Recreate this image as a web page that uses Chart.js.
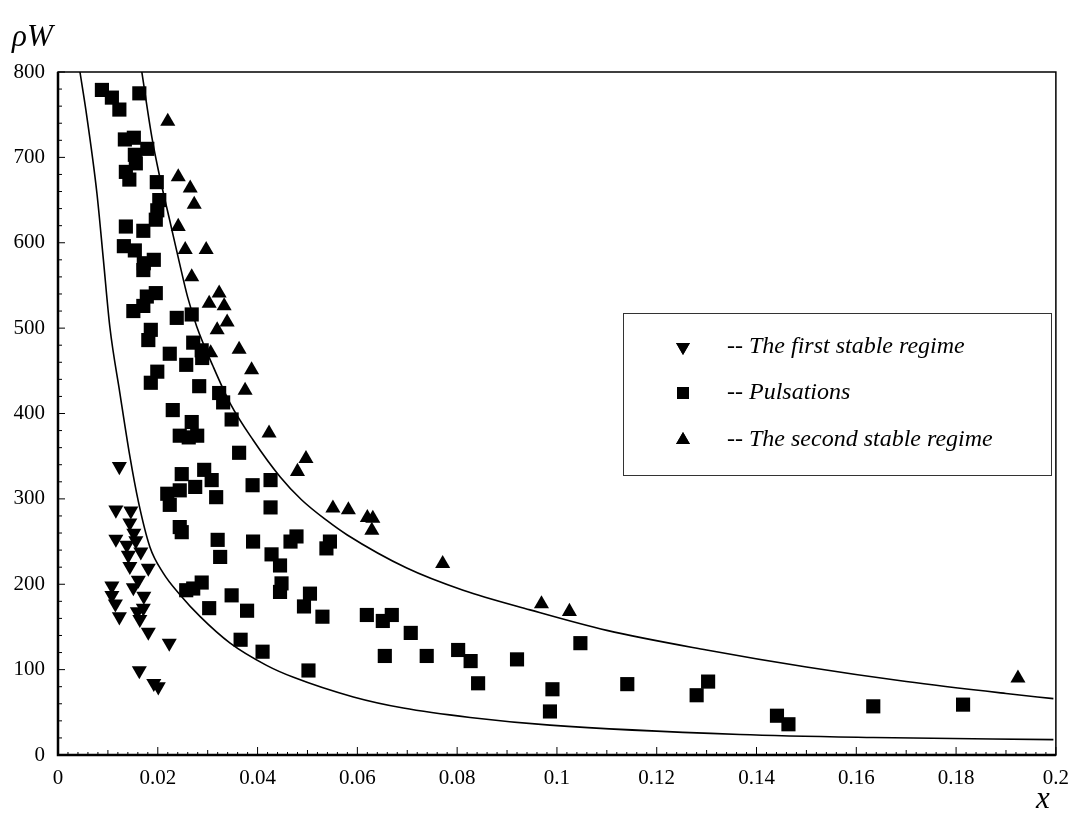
<!DOCTYPE html>
<html>
<head>
<meta charset="utf-8">
<title>rhoW vs x</title>
<script src="https://cdn.jsdelivr.net/npm/chart.js@4.4.0/dist/chart.umd.min.js"></script>
<style>
  html, body { margin: 0; padding: 0; background: #fff; }
  #wrap { width: 1080px; height: 831px; position: relative; }
</style>
</head>
<body>
<div id="wrap"><canvas id="myChart" width="1080" height="831"></canvas></div>
<script>
// tick labels
var xTickLabels = ['0', '0.02', '0.04', '0.06', '0.08', '0.1', '0.12', '0.14', '0.16', '0.18', '0.2'];
var yTickLabels = ['0', '100', '200', '300', '400', '500', '600', '700', '800'];

// legend names
var seriesNames = ['-- The first stable regime', '-- Pulsations', '-- The second stable regime'];

// the first stable regime (down triangles) [x, rhoW]
var firstStable = [
  [0.0123, 338], [0.0116, 287], [0.0146, 286], [0.0144, 272], [0.0152, 260],
  [0.0116, 253], [0.0156, 251], [0.0138, 246], [0.0166, 238], [0.0141, 234],
  [0.0181, 219], [0.0144, 221], [0.0161, 205], [0.0108, 198], [0.0151, 196],
  [0.0108, 187], [0.0172, 186], [0.0115, 177], [0.0171, 172], [0.0159, 168],
  [0.0123, 162], [0.0164, 159], [0.0181, 144], [0.0223, 131], [0.0163, 99],
  [0.0192, 84], [0.0201, 80]
];

// pulsations (squares)
var pulsations = [
  [0.0088, 779], [0.0108, 770], [0.0123, 756], [0.0163, 775], [0.0134, 721],
  [0.0152, 723], [0.0179, 710], [0.0154, 703], [0.0156, 693], [0.0136, 683],
  [0.0143, 674], [0.0198, 671], [0.0203, 650], [0.0199, 638], [0.0196, 627],
  [0.0136, 619], [0.0171, 614], [0.0132, 596], [0.0154, 591], [0.0172, 576],
  [0.0192, 580], [0.0171, 568], [0.0196, 541], [0.0178, 537], [0.0151, 520],
  [0.0171, 526], [0.0238, 512], [0.0268, 516], [0.0186, 498], [0.0181, 486],
  [0.0224, 470], [0.0271, 483], [0.0288, 474], [0.0257, 457], [0.0199, 449],
  [0.0289, 465], [0.0186, 436], [0.0283, 432], [0.0323, 424], [0.0331, 413],
  [0.0230, 404], [0.0348, 393], [0.0268, 390], [0.0244, 374], [0.0262, 372],
  [0.0279, 374], [0.0363, 354], [0.0248, 329], [0.0293, 334], [0.0308, 322],
  [0.0390, 316], [0.0426, 322], [0.0219, 306], [0.0244, 310], [0.0275, 314],
  [0.0317, 302], [0.0224, 293], [0.0426, 290], [0.0244, 267], [0.0248, 261],
  [0.0320, 252], [0.0325, 232], [0.0391, 250], [0.0428, 235], [0.0445, 222],
  [0.0478, 256], [0.0466, 250], [0.0545, 250], [0.0538, 242], [0.0448, 201],
  [0.0445, 191], [0.0288, 202], [0.0257, 193], [0.0271, 195], [0.0348, 187],
  [0.0505, 189], [0.0493, 174], [0.0303, 172], [0.0379, 169], [0.0530, 162],
  [0.0366, 135], [0.0410, 121], [0.0502, 99], [0.0619, 164], [0.0651, 157],
  [0.0669, 164], [0.0707, 143], [0.0655, 116], [0.0739, 116], [0.0802, 123],
  [0.0827, 110], [0.0920, 112], [0.0842, 84], [0.1047, 131], [0.0991, 77],
  [0.0986, 51], [0.1141, 83], [0.1303, 86], [0.1280, 70], [0.1441, 46],
  [0.1464, 36], [0.1634, 57], [0.1814, 59]
];

// the second stable regime (up triangles)
var secondStable = [
  [0.0220, 742], [0.0241, 677], [0.0265, 664], [0.0273, 645], [0.0241, 619],
  [0.0255, 592], [0.0297, 592], [0.0268, 560], [0.0323, 541], [0.0303, 529],
  [0.0333, 526], [0.0339, 507], [0.0319, 498], [0.0306, 471], [0.0363, 475],
  [0.0388, 451], [0.0375, 427], [0.0423, 377], [0.0497, 347], [0.0480, 332],
  [0.0551, 289], [0.0582, 287], [0.0620, 278], [0.0631, 277], [0.0629, 263],
  [0.0771, 224], [0.0969, 177], [0.1025, 168], [0.1924, 90]
];

// boundary curves
var lowerCurve = [
  [0.0044, 800], [0.0056, 755], [0.0078, 658], [0.0091, 580], [0.0104, 501],
  [0.0124, 424], [0.0144, 350], [0.0161, 297], [0.0184, 244], [0.0211, 213],
  [0.0244, 188], [0.0285, 162], [0.0345, 131], [0.0418, 105], [0.0472, 91],
  [0.0592, 68], [0.0692, 55], [0.0826, 44], [0.0986, 35], [0.1367, 24],
  [0.1634, 20.5], [0.1995, 18]
];
var upperCurve = [
  [0.0168, 800], [0.0188, 724], [0.0204, 677], [0.0224, 626], [0.0244, 575],
  [0.0260, 536], [0.0278, 502], [0.0311, 455], [0.0345, 412], [0.0391, 369],
  [0.0445, 326], [0.0488, 299], [0.0538, 275], [0.0579, 258], [0.0699, 219],
  [0.0812, 193], [0.0946, 170], [0.1100, 146], [0.1300, 123], [0.1500, 103],
  [0.1700, 86], [0.1900, 72], [0.1995, 66]
];

function toPts(arr) {
  return arr.map(function (p) { return { x: p[0], y: p[1] }; });
}

var serif = "'Liberation Serif', 'DejaVu Serif', serif";

// frame, inward ticks, axis names and boxed legend
var decorations = {
  id: 'decorations',
  afterDatasetsDraw: function (chart) {
    var ctx = chart.ctx;
    var a = chart.chartArea;
    var xs = chart.scales.x;
    var ys = chart.scales.y;
    ctx.save();
    ctx.strokeStyle = '#000';

    // frame
    ctx.lineWidth = 1.5;
    ctx.strokeRect(a.left, a.top, a.right - a.left, a.bottom - a.top);
    ctx.lineWidth = 2.5;
    ctx.beginPath();
    ctx.moveTo(a.left, a.top);
    ctx.lineTo(a.left, a.bottom);
    ctx.lineTo(a.right, a.bottom);
    ctx.stroke();

    // y ticks every 20
    ctx.lineWidth = 1;
    ctx.beginPath();
    for (var i = 0; i <= 40; i++) {
      var py = ys.getPixelForValue(i * 20);
      var len = (i % 5 === 0) ? 7 : 4;
      ctx.moveTo(a.left, py);
      ctx.lineTo(a.left + len, py);
    }
    // x ticks every 0.002
    for (var j = 0; j <= 100; j++) {
      var px = xs.getPixelForValue(j * 0.002);
      var l = (j % 10 === 0) ? 8 : (j % 5 === 0 ? 5 : 3);
      ctx.moveTo(px, a.bottom);
      ctx.lineTo(px, a.bottom - l);
    }
    ctx.stroke();

    // axis names
    ctx.fillStyle = '#000';
    ctx.font = 'italic 31px ' + serif;
    ctx.textAlign = 'left';
    ctx.textBaseline = 'alphabetic';
    ctx.fillText('\u03C1W', 12, 46);
    ctx.fillText('x', 1036, 808);

    // legend box
    var bx = 623, by = 313, bw = 428, bh = 162;
    ctx.fillStyle = '#fff';
    ctx.fillRect(bx, by, bw, bh);
    ctx.strokeStyle = '#333';
    ctx.lineWidth = 1;
    ctx.strokeRect(bx + 0.5, by + 0.5, bw, bh);

    var rows = [347, 393, 440];
    var styles = ['triangle', 'rect', 'triangle'];
    var rots = [180, 0, 0];
    ctx.fillStyle = '#000';
    for (var k = 0; k < 3; k++) {
      Chart.helpers.drawPoint(ctx, {
        pointStyle: styles[k],
        radius: k === 1 ? 8.5 : 8,
        rotation: rots[k],
        borderWidth: 0
      }, 683, rows[k]);
      ctx.fill();
    }
    ctx.fillStyle = '#000';
    ctx.font = 'italic 24px ' + serif;
    ctx.textBaseline = 'middle';
    for (var m = 0; m < 3; m++) {
      ctx.fillText(seriesNames[m], 727, rows[m]);
    }
    ctx.restore();
  }
};

var ctx = document.getElementById('myChart').getContext('2d');
var myChart = new Chart(ctx, {
  type: 'scatter',
  data: {
    datasets: [
      {
        label: seriesNames[0],
        data: toPts(firstStable),
        pointStyle: 'triangle',
        rotation: 180,
        pointRadius: 8.7,
        backgroundColor: '#000',
        borderColor: '#000',
        borderWidth: 0
      },
      {
        label: seriesNames[1],
        data: toPts(pulsations),
        pointStyle: 'rect',
        pointRadius: 10,
        backgroundColor: '#000',
        borderColor: '#000',
        borderWidth: 0
      },
      {
        label: seriesNames[2],
        data: toPts(secondStable),
        pointStyle: 'triangle',
        pointRadius: 8.7,
        backgroundColor: '#000',
        borderColor: '#000',
        borderWidth: 0
      },
      {
        label: 'lower',
        data: toPts(lowerCurve),
        showLine: true,
        pointRadius: 0,
        borderColor: '#000',
        borderWidth: 1.6,
        cubicInterpolationMode: 'monotone',
        fill: false
      },
      {
        label: 'upper',
        data: toPts(upperCurve),
        showLine: true,
        pointRadius: 0,
        borderColor: '#000',
        borderWidth: 1.6,
        cubicInterpolationMode: 'monotone',
        fill: false
      }
    ]
  },
  options: {
    responsive: false,
    animation: false,
    layout: { padding: { left: 0, right: 24, top: 72, bottom: 0 } },
    plugins: {
      legend: { display: false },
      tooltip: { enabled: false }
    },
    scales: {
      x: {
        type: 'linear',
        min: 0,
        max: 0.2,
        grid: { display: false, drawTicks: false },
        border: { display: false },
        afterFit: function (s) { s.height = 76; },
        afterBuildTicks: function (s) {
          s.ticks = xTickLabels.map(function (t) { return { value: parseFloat(t) }; });
        },
        ticks: {
          padding: 11,
          maxRotation: 0,
          autoSkip: false,
          color: '#000',
          font: { family: serif, size: 21 },
          callback: function (v, i) { return xTickLabels[i]; }
        }
      },
      y: {
        type: 'linear',
        min: 0,
        max: 800,
        grid: { display: false, drawTicks: false },
        border: { display: false },
        afterFit: function (s) { s.width = 58; },
        afterBuildTicks: function (s) {
          s.ticks = yTickLabels.map(function (t) { return { value: parseFloat(t) }; });
        },
        ticks: {
          padding: 13,
          autoSkip: false,
          color: '#000',
          font: { family: serif, size: 21 },
          callback: function (v, i) { return yTickLabels[i]; }
        }
      }
    }
  },
  plugins: [decorations]
});
</script>
</body>
</html>
